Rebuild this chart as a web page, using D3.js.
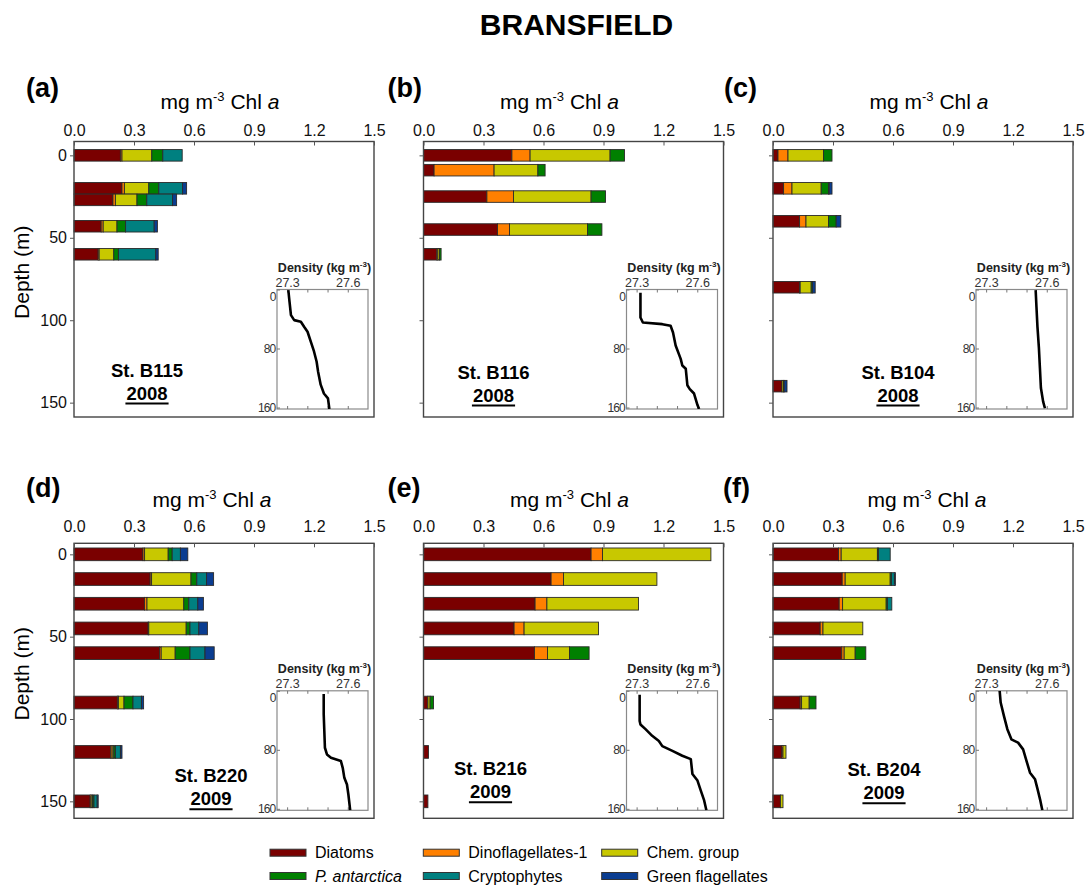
<!DOCTYPE html>
<html>
<head>
<meta charset="utf-8">
<script src="https://cdn.jsdelivr.net/npm/d3@7"></script>
<style>
  body { margin: 0; background: #fff; }
  svg { display: block; font-family: "Liberation Sans", Arial, sans-serif; }
</style>
</head>
<body>
<svg id="chart" width="1089" height="889"></svg>
<script>
// Phytoplankton groups (stack order) and colours
const groups = ["Diatoms", "Dinoflagellates-1", "Chem. group", "P. antarctica", "Cryptophytes", "Green flagellates"];
const groupColors = ["#7a0000", "#ff8000", "#c8c800", "#008000", "#008080", "#0a3d91"];

const chlTicks = [0, 0.3, 0.6, 0.9, 1.2, 1.5];
const depthTicks = [0, 50, 100, 150];
const densTicks = [27.3, 27.4, 27.5, 27.6];
const densLabels = [27.3, 27.6];
const profDepthTicks = [0, 80, 160];

// Chl a per group (mg m-3), one row per sampled depth
const depthsB115 = [0, 20, 27, 43, 60];
const chlB115 = [
    [0.232, 0.008, 0.149, 0.055, 0.097, 0.000],
    [0.240, 0.012, 0.122, 0.050, 0.119, 0.020],
    [0.195, 0.012, 0.108, 0.049, 0.129, 0.020],
    [0.136, 0.010, 0.069, 0.043, 0.143, 0.016],
    [0.121, 0.005, 0.073, 0.023, 0.187, 0.012]
];
const depthsB116 = [0, 9, 25, 45, 60];
const chlB116 = [
    [0.442, 0.091, 0.400, 0.072, 0, 0],
    [0.053, 0.300, 0.219, 0.036, 0, 0],
    [0.317, 0.133, 0.388, 0.072, 0, 0],
    [0.370, 0.060, 0.390, 0.072, 0, 0],
    [0.067, 0.005, 0.008, 0.008, 0, 0]
];
const depthsB104 = [0, 20, 40, 80, 140];
const chlB104 = [
    [0.025, 0.050, 0.178, 0.042, 0.000, 0.000],
    [0.053, 0.042, 0.146, 0.037, 0.003, 0.014],
    [0.133, 0.032, 0.113, 0.038, 0.000, 0.023],
    [0.133, 0.003, 0.055, 0.007, 0.000, 0.013],
    [0.045, 0.000, 0.008, 0.003, 0.000, 0.014]
];
const depthsB220 = [0, 15, 30, 45, 60, 90, 120, 150];
const chlB220 = [
    [0.345, 0.008, 0.118, 0.020, 0.041, 0.037],
    [0.381, 0.007, 0.197, 0.029, 0.049, 0.035],
    [0.353, 0.012, 0.184, 0.025, 0.045, 0.028],
    [0.371, 0.003, 0.187, 0.019, 0.044, 0.043],
    [0.428, 0.008, 0.070, 0.074, 0.075, 0.046],
    [0.217, 0.005, 0.028, 0.045, 0.042, 0.011],
    [0.184, 0.007, 0.008, 0.008, 0.025, 0.008],
    [0.081, 0.005, 0.007, 0.007, 0.016, 0.005]
];
const depthsB216 = [0, 15, 30, 45, 60, 90, 120, 150];
const chlB216 = [
    [0.838, 0.057, 0.542, 0.000, 0, 0],
    [0.638, 0.062, 0.467, 0.000, 0, 0],
    [0.558, 0.059, 0.458, 0.000, 0, 0],
    [0.453, 0.050, 0.372, 0.000, 0, 0],
    [0.555, 0.065, 0.110, 0.098, 0, 0],
    [0.022, 0.000, 0.011, 0.017, 0, 0],
    [0.025, 0.000, 0.000, 0.000, 0, 0],
    [0.022, 0.000, 0.000, 0.000, 0, 0]
];
const depthsB204 = [0, 15, 30, 45, 60, 90, 120, 150];
const chlB204 = [
    [0.328, 0.013, 0.181, 0.005, 0.059, 0.000],
    [0.346, 0.015, 0.225, 0.006, 0.015, 0.005],
    [0.331, 0.017, 0.218, 0.006, 0.022, 0.000],
    [0.236, 0.014, 0.199, 0.000, 0.000, 0.000],
    [0.344, 0.012, 0.055, 0.053, 0.000, 0.000],
    [0.136, 0.007, 0.038, 0.034, 0.000, 0.000],
    [0.045, 0.005, 0.015, 0.000, 0.000, 0.000],
    [0.037, 0.000, 0.013, 0.000, 0.000, 0.000]
];

// Density profiles [sigma (kg m-3), depth (m)]
const densB115 = [[27.306, 1], [27.312, 16.7], [27.319, 34.7], [27.335, 41.5], [27.368, 43.7], [27.384, 50.5], [27.401, 57.3], [27.420, 73], [27.433, 84], [27.446, 98], [27.453, 111], [27.466, 129], [27.482, 141], [27.502, 147.5], [27.509, 162]];
const densB116 = [[27.319, 4.5], [27.319, 38], [27.331, 44.8], [27.427, 47], [27.468, 49.2], [27.480, 58.2], [27.493, 76], [27.518, 94], [27.526, 103], [27.543, 107.4], [27.551, 129.8], [27.563, 135], [27.584, 141], [27.601, 156.6], [27.609, 162]];
const densB104 = [[27.545, 0.9], [27.549, 23.8], [27.554, 51], [27.561, 78.7], [27.566, 106], [27.571, 133.6], [27.582, 152], [27.591, 161]];
const densB220 = [[27.481, 4.5], [27.481, 31.7], [27.484, 54.5], [27.487, 77.2], [27.497, 86.2], [27.517, 90.8], [27.566, 95.3], [27.575, 104.4], [27.583, 118], [27.596, 127], [27.603, 140.6], [27.612, 162]];
const densB216 = [[27.315, 5.4], [27.315, 41], [27.319, 45.6], [27.344, 52], [27.377, 61], [27.410, 68], [27.427, 75], [27.477, 81.4], [27.526, 88], [27.568, 92.6], [27.576, 112.8], [27.601, 121.7], [27.617, 135], [27.634, 148.6], [27.645, 162]];
const densB204 = [[27.367, 0], [27.372, 15.9], [27.388, 34], [27.405, 52], [27.425, 65.8], [27.458, 70.3], [27.483, 79.4], [27.500, 95.3], [27.517, 111], [27.542, 120], [27.555, 134], [27.567, 147.5], [27.578, 162]];

// layout
const rows = [
    { top: 141.5, bottom: 417, domain: [-8.4, 158.7], barM: 7, labelY: 97, titleY: 109.3, tickPad: 6 },
    { top: 543.3, bottom: 818.3, domain: [-6.7, 160.3], barM: 7.7, labelY: 497, titleY: 507.3, tickPad: 11 }
];
const colX = [74, 423.5, 773];
const plotW = 300;

const panels = [
    { tag: "(a)", station: "St. B115", year: "2008", depths: depthsB115, chl: chlB115, dens: densB115, row: 0, col: 0, tagDx: -48, titleDx: -4, stDx: 73, stDy: 235 },
    { tag: "(b)", station: "St. B116", year: "2008", depths: depthsB116, chl: chlB116, dens: densB116, row: 0, col: 1, tagDx: -36, titleDx: -14, stDx: 70, stDy: 237 },
    { tag: "(c)", station: "St. B104", year: "2008", depths: depthsB104, chl: chlB104, dens: densB104, row: 0, col: 2, tagDx: -49, titleDx: 6, stDx: 125, stDy: 237 },
    { tag: "(d)", station: "St. B220", year: "2009", depths: depthsB220, chl: chlB220, dens: densB220, row: 1, col: 0, tagDx: -48, titleDx: -12, stDx: 137, stDy: 239 },
    { tag: "(e)", station: "St. B216", year: "2009", depths: depthsB216, chl: chlB216, dens: densB216, row: 1, col: 1, tagDx: -36, titleDx: -4, stDx: 67, stDy: 232 },
    { tag: "(f)", station: "St. B204", year: "2009", depths: depthsB204, chl: chlB204, dens: densB204, row: 1, col: 2, tagDx: -50, titleDx: 4, stDx: 111, stDy: 233 }
];

const svg = d3.select("#chart");
svg.append("rect").attr("width", 1089).attr("height", 889).attr("fill", "#fff");

svg.append("text")
    .attr("x", 576.5)
    .attr("y", 35)
    .attr("text-anchor", "middle")
    .style("font-size", "30px")
    .style("font-weight", "bold")
    .text("BRANSFIELD");

const stack = d3.stack()
    .keys(d3.range(groups.length))
    .value((row, k) => row[k]);

panels.forEach(function(p, pi) {
    const r = rows[p.row];
    const x0 = colX[p.col];
    const g = svg.append("g");

    const x = d3.scaleLinear().domain([0, 1.5]).range([x0, x0 + plotW]);
    const y = d3.scaleLinear().domain(r.domain).range([r.top, r.bottom]);
    const barH = y(r.barM) - y(0);

    // stacked bars
    const series = stack(p.chl);
    series.forEach(function(s, k) {
        g.selectAll(null)
            .data(s.map((seg, i) => ({ seg: seg, depth: p.depths[i] })))
            .enter()
            .filter(d => d.seg[1] - d.seg[0] > 0)
            .append("rect")
            .attr("x", d => x(d.seg[0]))
            .attr("y", d => y(d.depth) - barH / 2)
            .attr("width", d => x(d.seg[1]) - x(d.seg[0]))
            .attr("height", barH)
            .attr("fill", groupColors[k])
            .attr("stroke", "#2a2a2a")
            .attr("stroke-width", 0.9);
    });

    // frame
    g.append("rect")
        .attr("x", x0).attr("y", r.top)
        .attr("width", plotW).attr("height", r.bottom - r.top)
        .attr("fill", "none")
        .attr("stroke", "#444")
        .attr("stroke-width", 1.4);

    // top axis (ticks inside)
    const xAxis = g.append("g")
        .attr("transform", `translate(0, ${r.top})`)
        .call(d3.axisTop(x).tickValues(chlTicks).tickSize(-4).tickPadding(r.tickPad).tickFormat(d3.format(".1f")));
    xAxis.select(".domain").remove();
    xAxis.selectAll("line").attr("stroke", "#555");
    xAxis.selectAll("text").style("font-size", "16px").attr("fill", "#111").style("font-family", "inherit");

    // left axis
    const yAxis = g.append("g")
        .attr("transform", `translate(${x0}, 0)`)
        .call(d3.axisLeft(y).tickValues(depthTicks).tickSize(4).tickPadding(3)
            .tickFormat(p.col === 0 ? d3.format("d") : () => ""));
    yAxis.select(".domain").remove();
    yAxis.selectAll("line").attr("stroke", "#555");
    yAxis.selectAll("text").style("font-size", "16px").attr("fill", "#111").style("font-family", "inherit");

    if (p.col === 0) {
        svg.append("text")
            .attr("transform", `translate(29, ${(r.top + r.bottom) / 2 - 7}) rotate(-90)`)
            .attr("text-anchor", "middle")
            .style("font-size", "21px")
            .text("Depth (m)");
    }

    // axis title: mg m-3 Chl a
    const t = svg.append("text")
        .attr("x", x0 + plotW / 2 + p.titleDx)
        .attr("y", r.titleY)
        .attr("text-anchor", "middle")
        .style("font-size", "21px");
    t.append("tspan").text("mg m");
    t.append("tspan").attr("dy", -8).style("font-size", "13px").text("-3");
    t.append("tspan").attr("dy", 8).text(" Chl ");
    t.append("tspan").style("font-style", "italic").text("a");

    // panel tag
    svg.append("text")
        .attr("x", x0 + p.tagDx)
        .attr("y", r.labelY)
        .style("font-size", "27px")
        .style("font-weight", "bold")
        .text(p.tag);

    // station label
    svg.append("text")
        .attr("x", x0 + p.stDx)
        .attr("y", r.top + p.stDy)
        .attr("text-anchor", "middle")
        .style("font-size", "18.5px")
        .style("font-weight", "bold")
        .text(p.station);
    const yr = svg.append("text")
        .attr("x", x0 + p.stDx)
        .attr("y", r.top + p.stDy + 23)
        .attr("text-anchor", "middle")
        .style("font-size", "18.5px")
        .style("font-weight", "bold")
        .text(p.year);
    const yw = yr.node().getComputedTextLength();
    svg.append("line")
        .attr("x1", x0 + p.stDx - yw / 2 - 1).attr("x2", x0 + p.stDx + yw / 2 + 1)
        .attr("y1", r.top + p.stDy + 27).attr("y2", r.top + p.stDy + 27)
        .attr("stroke", "#000").attr("stroke-width", 2);

    // density inset
    const ix = x0 + 203, iw = 91;
    const iy1 = r.bottom - 8, iy0 = iy1 - 119.5;
    const xs = d3.scaleLinear().domain([27.25, 27.70]).range([ix, ix + iw]);
    const ys = d3.scaleLinear().domain([0, 162]).range([iy0, iy1]);

    const ig = svg.append("g");
    ig.append("rect")
        .attr("x", ix).attr("y", iy0).attr("width", iw).attr("height", iy1 - iy0)
        .attr("fill", "#fff")
        .attr("stroke", "#8a8a8a")
        .attr("stroke-width", 1.2);

    const itop = ig.append("g")
        .attr("transform", `translate(0, ${iy0})`)
        .call(d3.axisTop(xs).tickValues(densTicks).tickSize(-3).tickPadding(2.5)
            .tickFormat(d => densLabels.includes(d) ? d.toFixed(1) : ""));
    itop.select(".domain").remove();
    itop.selectAll("line").attr("stroke", "#777");
    itop.selectAll("text").style("font-size", "12.5px").attr("fill", "#333").style("font-family", "inherit");

    const ibot = ig.append("g")
        .attr("transform", `translate(0, ${iy1})`)
        .call(d3.axisBottom(xs).tickValues(densTicks).tickSize(-3).tickFormat(""));
    ibot.select(".domain").remove();
    ibot.selectAll("line").attr("stroke", "#777");

    const ileft = ig.append("g")
        .attr("transform", `translate(${ix}, 0)`)
        .call(d3.axisLeft(ys).tickValues(profDepthTicks).tickSize(-3).tickPadding(1.5).tickFormat(d3.format("d")));
    ileft.select(".domain").remove();
    ileft.selectAll("line").attr("stroke", "#777");
    ileft.selectAll("text")
        .style("font-size", "12px")
        .style("letter-spacing", "-0.8px")
        .attr("fill", "#333")
        .style("font-family", "inherit")
        .attr("dy", d => d === 0 ? "0.9em" : "0.32em");

    const it = ig.append("text")
        .attr("x", ix + iw / 2 + 2)
        .attr("y", iy0 - 17.5)
        .attr("text-anchor", "middle")
        .style("font-size", "12.5px")
        .style("font-weight", "bold")
        .attr("fill", "#222");
    it.append("tspan").text("Density (kg m");
    it.append("tspan").attr("dy", -5).style("font-size", "8px").text("-3");
    it.append("tspan").attr("dy", 5).text(")");

    ig.append("clipPath").attr("id", "clip" + pi)
        .append("rect").attr("x", ix).attr("y", iy0).attr("width", iw).attr("height", iy1 - iy0);

    const line = d3.line().x(d => xs(d[0])).y(d => ys(d[1]));
    ig.append("path")
        .datum(p.dens)
        .attr("clip-path", `url(#clip${pi})`)
        .attr("d", line)
        .attr("fill", "none")
        .attr("stroke", "#000")
        .attr("stroke-width", 2.6)
        .attr("stroke-linejoin", "round");
});

// legend
const legendCols = [270, 423.3, 601.7];
const legendRows = [852.7, 876];
const legend = svg.selectAll(".legend")
    .data(groups)
    .enter()
    .append("g")
    .attr("class", "legend")
    .attr("transform", (d, i) => `translate(${legendCols[i % 3]}, ${legendRows[Math.floor(i / 3)]})`);

legend.append("rect")
    .attr("x", 0).attr("y", -3.5)
    .attr("width", 36).attr("height", 7)
    .attr("fill", (d, i) => groupColors[i])
    .attr("stroke", "#333")
    .attr("stroke-width", 1);

legend.append("text")
    .attr("x", 45)
    .attr("y", 0)
    .attr("dy", "0.35em")
    .style("font-size", "16px")
    .style("font-style", d => d === "P. antarctica" ? "italic" : "normal")
    .text(d => d);
</script>
</body>
</html>
